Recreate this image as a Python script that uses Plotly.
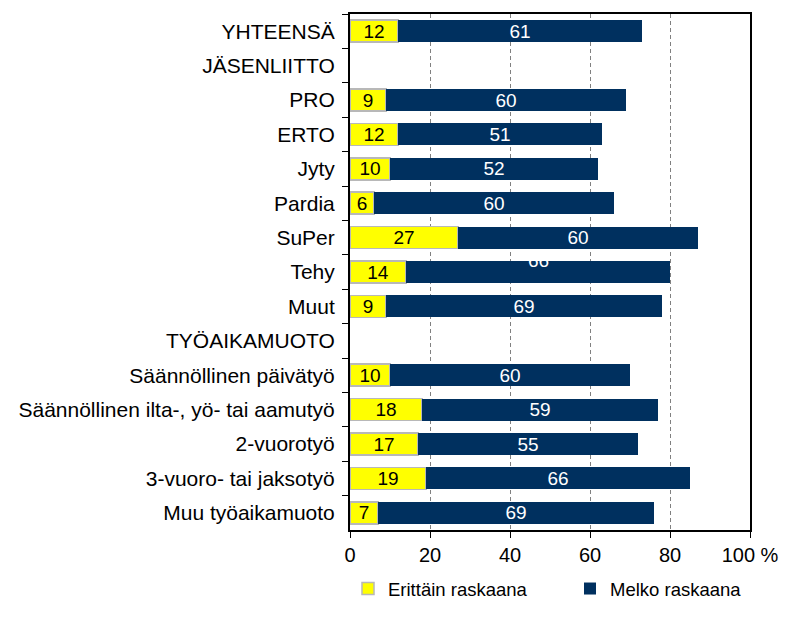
import plotly.graph_objects as go

categories = ["YHTEENSÄ", "JÄSENLIITTO", "PRO", "ERTO", "Jyty", "Pardia", "SuPer", "Tehy", "Muut",
              "TYÖAIKAMUOTO", "Säännöllinen päivätyö", "Säännöllinen ilta-, yö- tai aamutyö",
              "2-vuorotyö", "3-vuoro- tai jaksotyö", "Muu työaikamuoto"]
erittain = [12, None, 9, 12, 10, 6, 27, 14, 9, None, 10, 18, 17, 19, 7]
melko = [61, None, 60, 51, 52, 60, 60, 66, 69, None, 60, 59, 55, 66, 69]
x_ticks = [0, 20, 40, 60, 80, 100]
x_ticktext = ["0", "20", "40", "60", "80", "100 %"]
shifted_label = "Tehy"

FONT = "Liberation Sans, Arial, sans-serif"

melko_text = [("" if (v is None or c == shifted_label) else str(v)) for c, v in zip(categories, melko)]

fig = go.Figure()
fig.add_trace(go.Bar(
    y=categories, x=erittain, orientation="h", name="Erittäin raskaana",
    marker=dict(color="#ffff00", line=dict(color="#b8b8b8", width=1.5)),
    text=[("" if v is None else str(v)) for v in erittain],
    textposition="inside", insidetextanchor="middle", textangle=0,
    textfont=dict(color="black", size=19, family=FONT),
))
fig.add_trace(go.Bar(
    y=categories, x=melko, orientation="h", name="Melko raskaana",
    marker=dict(color="#00305f", line=dict(color="#00305f", width=0)),
    text=melko_text,
    textposition="inside", insidetextanchor="middle", textangle=0,
    textfont=dict(color="white", size=19, family=FONT),
))

i = categories.index(shifted_label)
fig.add_annotation(x=erittain[i] + melko[i] / 2, y=shifted_label, text=str(melko[i]),
                   showarrow=False, yshift=12, font=dict(color="white", size=19, family=FONT))

fig.update_layout(
    barmode="stack", bargap=0.36,
    width=800, height=614,
    margin=dict(l=342, r=58, t=6, b=92),
    paper_bgcolor="white", plot_bgcolor="white",
    font=dict(family=FONT, size=19, color="black"),
    uniformtext=dict(mode="show", minsize=19),
    legend=dict(orientation="h", x=-0.005, y=-0.0775, xanchor="left", yanchor="top",
                font=dict(size=18.5, family=FONT), traceorder="normal",
                entrywidth=177, entrywidthmode="pixels"),
)
fig.update_xaxes(
    range=[0, 100], tickvals=x_ticks, ticktext=x_ticktext,
    showgrid=True, gridcolor="#808080", griddash="4px,3px", gridwidth=1,
    showline=True, linecolor="black", linewidth=2, mirror=True,
    ticks="outside", ticklen=6, tickcolor="black",
    tickfont=dict(size=20), zeroline=False, automargin=False,
)
fig.update_yaxes(
    autorange="reversed", categoryorder="array", categoryarray=categories,
    showline=True, linecolor="black", linewidth=2, mirror=True,
    ticks="outside", ticklen=6, tickson="boundaries", tickcolor="black",
    tickfont=dict(size=21), ticklabelstandoff=9, automargin=False,
)

fig.write_html("out.html")
